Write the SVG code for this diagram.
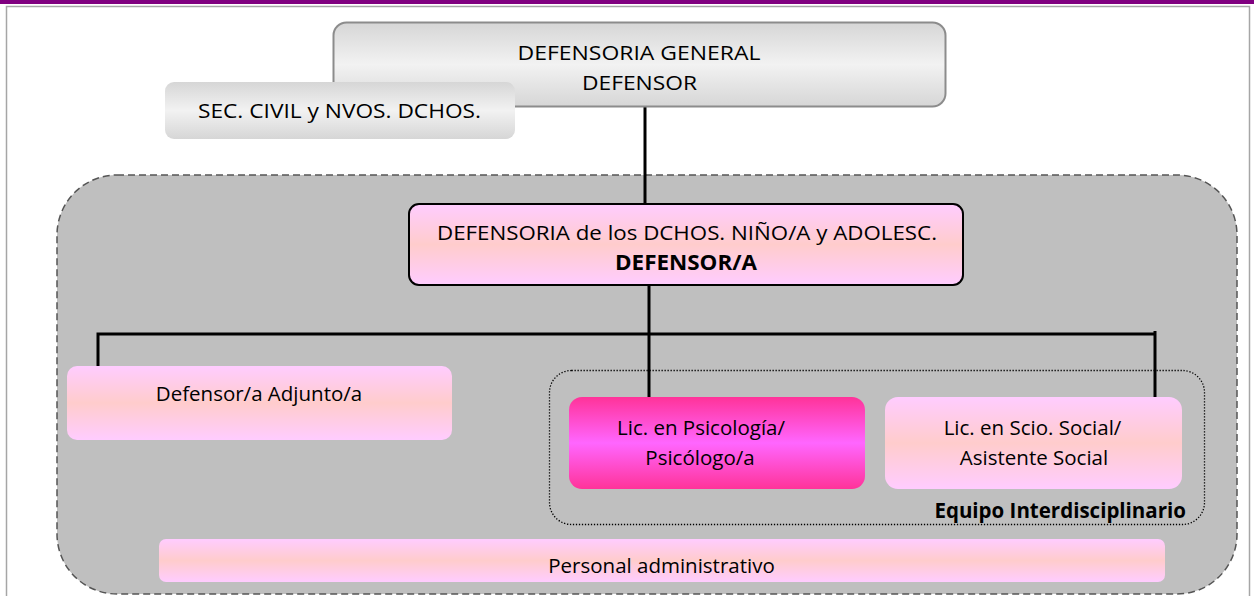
<svg xmlns="http://www.w3.org/2000/svg" width="1254" height="596" viewBox="0 0 1254 596">
<defs>
<linearGradient id="gGray" x1="0" y1="0" x2="0" y2="1">
<stop offset="0" stop-color="#d6d6d6"/><stop offset="0.5" stop-color="#f2f2f2"/><stop offset="1" stop-color="#d6d6d6"/>
</linearGradient>
<linearGradient id="gPink" x1="0" y1="0" x2="0" y2="1">
<stop offset="0" stop-color="#ffccff"/><stop offset="0.5" stop-color="#ffcccc"/><stop offset="1" stop-color="#ffccff"/>
</linearGradient>
<linearGradient id="gMag" x1="0" y1="0" x2="0" y2="1">
<stop offset="0" stop-color="#ff3399"/><stop offset="0.5" stop-color="#ff66ff"/><stop offset="1" stop-color="#ff3399"/>
</linearGradient>
<style>
text{font-family:"Open Sans","Liberation Sans",sans-serif;font-size:20.5px;fill:#000;text-anchor:middle}
.b{font-weight:bold}
.conn{stroke:#000;stroke-width:3;fill:none}
</style>
</defs>
<rect x="0" y="0" width="1254" height="596" fill="#fff"/>
<rect x="0" y="0" width="1254" height="4" fill="#800080"/>
<path d="M6.5 596 V6.5 H1249.5 V596" fill="none" stroke="#a6a6a6" stroke-width="1.5"/>

<g id="zona">
<rect x="57" y="175" width="1180" height="419" rx="60" fill="#bfbfbf" stroke="#555" stroke-width="1.5" stroke-dasharray="7,4"/>
</g>

<g id="connectors">
<line class="conn" x1="645" y1="106" x2="645" y2="204"/>
<line class="conn" x1="649" y1="285" x2="649" y2="398"/>
<polyline class="conn" points="98,366 98,334 1155,334"/>
<line class="conn" x1="1155" y1="331" x2="1155" y2="398"/>
</g>

<g id="equipo">
<rect x="549.5" y="370.5" width="655" height="154" rx="22" fill="none" stroke="#000" stroke-width="1.3" stroke-dasharray="1.3,1.7"/>
<text class="b" x="1186" y="518" style="text-anchor:end">Equipo Interdisciplinario</text>
</g>

<g id="defensoria-general">
<rect x="333.5" y="22.5" width="612" height="84" rx="13" fill="url(#gGray)" stroke="#8c8c8c" stroke-width="2"/>
<text x="639" y="59.5" textLength="243" lengthAdjust="spacingAndGlyphs">DEFENSORIA GENERAL</text>
<text x="639.5" y="89.5" textLength="115" lengthAdjust="spacingAndGlyphs">DEFENSOR</text>
</g>

<g id="sec-civil">
<rect x="165" y="82" width="350" height="57" rx="9" fill="url(#gGray)"/>
<text x="339.5" y="118" textLength="283" lengthAdjust="spacingAndGlyphs">SEC. CIVIL y NVOS. DCHOS.</text>
</g>

<g id="defensoria-ninos">
<rect x="409" y="204" width="554" height="81" rx="10" fill="url(#gPink)" stroke="#000" stroke-width="2"/>
<text x="687" y="239.5" textLength="500" lengthAdjust="spacingAndGlyphs">DEFENSORIA de los DCHOS. NIÑO/A y ADOLESC.</text>
<text class="b" x="686" y="269.5" textLength="142" lengthAdjust="spacingAndGlyphs">DEFENSOR/A</text>
</g>

<g id="adjunto">
<rect x="67" y="366" width="385" height="74" rx="10" fill="url(#gPink)"/>
<text x="259" y="401">Defensor/a Adjunto/a</text>
</g>

<g id="psicologia">
<rect x="569" y="397" width="296" height="92" rx="13" fill="url(#gMag)"/>
<text x="701" y="434.5">Lic. en Psicología/</text>
<text x="700" y="465">Psicólogo/a</text>
</g>

<g id="social">
<rect x="885" y="397" width="297" height="92" rx="13" fill="url(#gPink)"/>
<text x="1032.5" y="434.5">Lic. en Scio. Social/</text>
<text x="1034" y="465">Asistente Social</text>
</g>

<g id="administrativo">
<rect x="159" y="539" width="1006" height="43" rx="7" fill="url(#gPink)"/>
<text x="661.5" y="573">Personal administrativo</text>
</g>
</svg>
